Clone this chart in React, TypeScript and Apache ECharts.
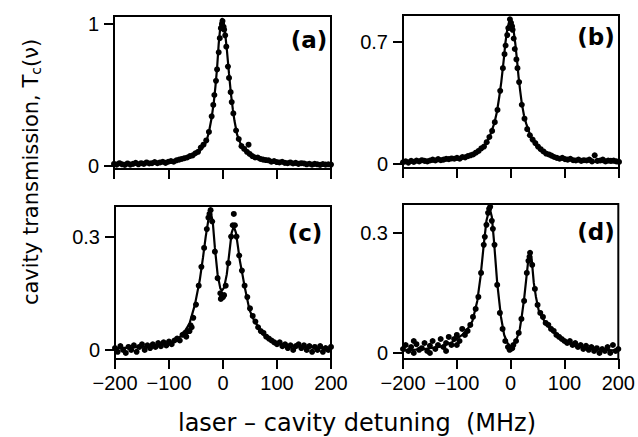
import React, { useEffect, useRef } from "react";
import * as echarts from "echarts";

const X_TICKS = [-200, -100, 0, 100, 200];
const Y_TICKS_A = [0, 1];
const Y_TICKS_B = [0, 0.7];
const Y_TICKS_C = [0, 0.3];
const Y_TICKS_D = [0, 0.3];
const PANEL_LABELS = ["(a)", "(b)", "(c)", "(d)"];

const FIT_A = [
  [-200, 0.012], [-150, 0.017], [-120, 0.022], [-100, 0.028], [-80, 0.04], [-70, 0.052], [-60, 0.065],
  [-47, 0.09], [-40, 0.115], [-33, 0.15], [-29, 0.183], [-25, 0.24], [-20, 0.34], [-16, 0.45], [-13, 0.56],
  [-10, 0.69], [-7, 0.86], [-4, 0.98], [-1, 1.04], [2, 1.02], [5, 0.93], [8, 0.82], [12, 0.65], [15.5, 0.51],
  [19, 0.4], [22, 0.32], [27, 0.22], [33, 0.16], [40, 0.12], [50, 0.08], [57, 0.065], [70, 0.05], [82, 0.042],
  [100, 0.03], [120, 0.022], [150, 0.016], [200, 0.01],
];
const FIT_B = [
  [-200, 0.008], [-150, 0.013], [-120, 0.02], [-100, 0.028], [-77, 0.042], [-65, 0.06], [-55, 0.085],
  [-46, 0.12], [-38, 0.17], [-31, 0.233], [-26, 0.3], [-21.7, 0.386], [-18, 0.47], [-15.5, 0.54], [-13, 0.61],
  [-10.6, 0.69], [-7, 0.77], [-4, 0.81], [-2, 0.826], [0, 0.825], [3, 0.8], [5.5, 0.75], [8, 0.69], [11, 0.6],
  [14, 0.5], [17, 0.42], [20, 0.348], [24, 0.28], [28, 0.233], [34, 0.18], [40, 0.138], [50, 0.095],
  [62, 0.071], [72, 0.055], [83, 0.042], [100, 0.03], [120, 0.02], [150, 0.013], [200, 0.008],
];
const FIT_C = [
  [-200, 0.004], [-150, 0.008], [-120, 0.012], [-100, 0.018], [-86, 0.026], [-74, 0.042], [-62, 0.07],
  [-52, 0.12], [-43, 0.185], [-37, 0.245], [-32, 0.3], [-27, 0.345], [-23, 0.366], [-19, 0.34], [-15, 0.27],
  [-10, 0.2], [-5, 0.163], [-2, 0.157], [2, 0.165], [7, 0.2], [12, 0.26], [16, 0.31], [20, 0.327], [24, 0.31],
  [28, 0.27], [31, 0.238], [36, 0.2], [40, 0.168], [49, 0.106], [57, 0.08], [65, 0.062], [75, 0.04],
  [86, 0.026], [100, 0.018], [120, 0.012], [150, 0.008], [200, 0.004],
];
const FIT_D = [
  [-200, 0.006], [-160, 0.01], [-130, 0.016], [-110, 0.026], [-90, 0.045], [-80, 0.06], [-71, 0.08],
  [-62, 0.13], [-56, 0.19], [-50, 0.27], [-45, 0.33], [-39, 0.362], [-35, 0.34], [-31, 0.28], [-25, 0.175],
  [-18, 0.09], [-12, 0.045], [-6, 0.025], [0, 0.016], [6, 0.022], [12, 0.038], [17, 0.06], [21, 0.095],
  [25, 0.135], [29, 0.185], [33, 0.235], [36, 0.253], [39, 0.235], [43, 0.175], [47, 0.14], [52, 0.107],
  [60, 0.085], [71, 0.065], [85, 0.045], [96, 0.032], [120, 0.017], [150, 0.01], [200, 0.006],
];

const DOTS_A = [
  [-200, 0.015], [-195, 0.01], [-190, 0.02], [-185, 0.012], [-180, 0.008], [-175, 0.018], [-170, 0.01],
  [-165, 0.015], [-160, 0.022], [-155, 0.012], [-150, 0.02], [-145, 0.015], [-140, 0.025], [-135, 0.018],
  [-130, 0.02], [-125, 0.028], [-120, 0.02], [-115, 0.025], [-110, 0.03], [-105, 0.022], [-100, 0.03],
  [-95, 0.035], [-90, 0.03], [-85, 0.04], [-80, 0.045], [-75, 0.05], [-70, 0.055], [-65, 0.06], [-60, 0.07],
  [-55, 0.075], [-50, 0.09], [-45, 0.1], [-40, 0.13], [-35, 0.15], [-30, 0.18], [-25, 0.24], [-20, 0.35],
  [-17, 0.43], [-15, 0.5], [-12, 0.6], [-10, 0.68], [-7, 0.8], [-5, 0.9], [-3, 0.97], [-1, 1.0], [0, 1.02],
  [2, 0.98], [3, 0.96], [5, 0.92], [7, 0.84], [10, 0.7], [12, 0.62], [15, 0.52], [17, 0.45], [20, 0.37],
  [25, 0.25], [30, 0.19], [35, 0.14], [40, 0.12], [45, 0.1], [48, 0.15], [50, 0.085], [55, 0.07], [60, 0.06],
  [65, 0.06], [70, 0.05], [75, 0.045], [80, 0.042], [85, 0.04], [90, 0.03], [95, 0.035], [100, 0.028],
  [105, 0.025], [110, 0.03], [115, 0.022], [120, 0.02], [125, 0.025], [130, 0.018], [135, 0.022], [140, 0.015],
  [145, 0.02], [150, 0.018], [155, 0.012], [160, 0.016], [165, 0.01], [170, 0.015], [175, 0.012], [180, 0.008],
  [185, 0.014], [190, 0.01], [195, 0.012], [200, 0.01],
];
const DOTS_B = [
  [-200, 0.01], [-195, 0.015], [-190, 0.008], [-185, 0.018], [-180, 0.012], [-175, 0.02], [-170, 0.015],
  [-165, 0.022], [-160, 0.018], [-155, 0.015], [-150, 0.02], [-145, 0.025], [-140, 0.02], [-135, 0.028],
  [-130, 0.022], [-125, 0.025], [-120, 0.03], [-115, 0.028], [-110, 0.032], [-105, 0.03], [-100, 0.035],
  [-95, 0.03], [-90, 0.04], [-85, 0.038], [-80, 0.045], [-75, 0.05], [-70, 0.055], [-65, 0.065], [-60, 0.075],
  [-55, 0.09], [-50, 0.1], [-45, 0.125], [-40, 0.155], [-35, 0.19], [-30, 0.24], [-25, 0.31], [-20, 0.42],
  [-15, 0.55], [-12, 0.63], [-10, 0.68], [-7, 0.74], [-5, 0.78], [-2, 0.83], [0, 0.81], [2, 0.79], [3, 0.77],
  [5, 0.72], [7, 0.66], [10, 0.6], [12, 0.55], [15, 0.47], [20, 0.34], [25, 0.26], [30, 0.2], [35, 0.165],
  [40, 0.14], [45, 0.12], [50, 0.1], [55, 0.085], [60, 0.072], [65, 0.06], [70, 0.055], [75, 0.048],
  [80, 0.04], [85, 0.035], [90, 0.03], [95, 0.035], [100, 0.028], [105, 0.025], [110, 0.03], [115, 0.022],
  [120, 0.02], [125, 0.025], [130, 0.018], [135, 0.022], [140, 0.02], [145, 0.025], [150, 0.015], [155, 0.05],
  [160, 0.018], [165, 0.02], [170, 0.025], [175, 0.015], [180, 0.02], [185, 0.018], [190, 0.02], [195, 0.015],
  [200, 0.012],
];
const DOTS_C = [
  [-200, 0.005], [-195, -0.005], [-190, 0.01], [-185, 0.0], [-180, -0.008], [-175, 0.008], [-170, 0.0],
  [-165, 0.012], [-160, -0.005], [-155, 0.008], [-150, 0.015], [-145, 0.0], [-140, 0.012], [-135, 0.005],
  [-130, 0.015], [-125, 0.008], [-120, 0.018], [-115, 0.01], [-110, 0.02], [-105, 0.012], [-100, 0.022],
  [-95, 0.015], [-90, 0.025], [-85, 0.03], [-80, 0.025], [-75, 0.04], [-70, 0.045], [-68, 0.035], [-65, 0.05],
  [-62, 0.05], [-60, 0.065], [-58, 0.06], [-55, 0.085], [-50, 0.12], [-45, 0.17], [-40, 0.22], [-35, 0.27],
  [-30, 0.32], [-27, 0.35], [-25, 0.36], [-23, 0.37], [-20, 0.34], [-15, 0.26], [-10, 0.19], [-5, 0.15],
  [-4, 0.135], [-2, 0.14], [0, 0.14], [2, 0.145], [5, 0.17], [10, 0.23], [15, 0.3], [18, 0.33], [20, 0.36],
  [22, 0.33], [25, 0.3], [30, 0.25], [35, 0.21], [40, 0.17], [45, 0.14], [50, 0.11], [55, 0.09], [60, 0.075],
  [65, 0.06], [70, 0.05], [75, 0.045], [80, 0.035], [85, 0.03], [90, 0.025], [95, 0.02], [100, 0.015],
  [105, 0.02], [110, 0.01], [115, 0.015], [120, 0.005], [125, 0.012], [130, 0.0], [135, 0.01], [140, 0.015],
  [145, 0.005], [150, 0.012], [155, 0.0], [160, 0.01], [165, -0.005], [170, 0.008], [175, 0.0], [180, 0.01],
  [185, -0.005], [190, 0.005], [195, 0.0], [200, 0.008],
];
const DOTS_D = [
  [-200, 0.01], [-195, 0.02], [-190, 0.005], [-185, 0.015], [-180, 0.0], [-180, 0.03], [-175, 0.022],
  [-170, 0.008], [-165, 0.012], [-160, 0.025], [-155, 0.005], [-150, 0.018], [-150, 0.0], [-145, 0.03],
  [-140, 0.01], [-135, 0.02], [-130, 0.035], [-125, 0.015], [-120, 0.025], [-120, 0.005], [-115, 0.04],
  [-110, 0.02], [-105, 0.035], [-100, 0.045], [-100, 0.02], [-95, 0.03], [-90, 0.06], [-85, 0.045],
  [-80, 0.055], [-75, 0.07], [-70, 0.09], [-65, 0.11], [-60, 0.14], [-55, 0.2], [-50, 0.27], [-48, 0.29],
  [-45, 0.32], [-42, 0.35], [-40, 0.36], [-38, 0.365], [-35, 0.33], [-33, 0.31], [-30, 0.27], [-25, 0.17],
  [-20, 0.1], [-15, 0.06], [-10, 0.03], [-5, 0.015], [-2, 0.008], [0, 0.01], [3, 0.012], [5, 0.02], [10, 0.03],
  [15, 0.05], [20, 0.085], [25, 0.13], [30, 0.2], [33, 0.23], [35, 0.24], [36, 0.25], [40, 0.22], [45, 0.16],
  [50, 0.12], [55, 0.1], [60, 0.09], [65, 0.075], [70, 0.07], [75, 0.06], [80, 0.055], [85, 0.045], [90, 0.04],
  [95, 0.035], [100, 0.03], [105, 0.025], [110, 0.03], [115, 0.02], [120, 0.025], [125, 0.015], [130, 0.02],
  [135, 0.01], [140, 0.018], [145, 0.008], [150, 0.015], [155, 0.005], [160, 0.012], [165, 0.0], [170, 0.01],
  [175, 0.005], [180, 0.015], [185, 0.0], [190, 0.02], [195, 0.005], [200, 0.01],
];

const FONT = "'DejaVu Sans', 'Liberation Sans', sans-serif";
const TICK_FONT = "'Liberation Sans', Arial, sans-serif";

export default function App() {
  const ref = useRef<HTMLDivElement>(null);

  useEffect(() => {
    if (!ref.current) return;
    const chart = echarts.init(ref.current, null, { renderer: "svg" });

    const grids = [
      { left: 114, top: 16, width: 217, height: 153 },
      { left: 403, top: 15, width: 216, height: 153 },
      { left: 115, top: 206, width: 216, height: 153 },
      { left: 403, top: 204, width: 216, height: 155 },
    ];
    const yRanges = [
      [-0.021, 1.056],
      [-0.023, 0.855],
      [-0.024, 0.381],
      [-0.015, 0.372],
    ];
    const yTicks = [Y_TICKS_A, Y_TICKS_B, Y_TICKS_C, Y_TICKS_D];
    const fits = [FIT_A, FIT_B, FIT_C, FIT_D];
    const dots = [DOTS_A, DOTS_B, DOTS_C, DOTS_D];
    const labelPos = [
      [309, 40],
      [596, 37],
      [305, 233],
      [596, 232],
    ];

    const option: any = {
      animation: false,
      backgroundColor: "#fff",
      grid: grids.map((g) => ({
        ...g,
        show: true,
        borderColor: "#000",
        borderWidth: 2,
        backgroundColor: "transparent",
        containLabel: false,
      })),
      xAxis: grids.map((_, i) => ({
        type: "value",
        gridIndex: i,
        min: -200,
        max: 200,
        interval: 100,
        axisLine: { show: true, onZero: false, lineStyle: { color: "#000", width: 2 } },
        axisTick: {
          show: true,
          inside: false,
          length: 10,
          customValues: X_TICKS,
          lineStyle: { color: "#000", width: 2 },
        },
        axisLabel: {
          show: i >= 2,
          customValues: X_TICKS,
          color: "#000",
          fontSize: 20,
          fontFamily: TICK_FONT,
          margin: 14,
          formatter: (v: number) => String(v).replace("-", "\u2212"),
        },
        splitLine: { show: false },
      })),
      yAxis: grids.map((_, i) => ({
        type: "value",
        gridIndex: i,
        min: yRanges[i][0],
        max: yRanges[i][1],
        axisLine: { show: true, onZero: false, lineStyle: { color: "#000", width: 2 } },
        axisTick: {
          show: true,
          inside: false,
          length: 10,
          customValues: yTicks[i],
          lineStyle: { color: "#000", width: 2 },
        },
        axisLabel: {
          show: true,
          customValues: yTicks[i],
          color: "#000",
          fontSize: 20,
          fontFamily: TICK_FONT,
          margin: 15,
          formatter: (v: number) => String(v),
        },
        splitLine: { show: false },
      })),
      series: [
        ...fits.map((d, i) => ({
          type: "line",
          xAxisIndex: i,
          yAxisIndex: i,
          data: d,
          showSymbol: false,
          symbol: "none",
          smooth: false,
          lineStyle: { color: "#000", width: 2.2 },
          z: 3,
        })),
        ...dots.map((d, i) => ({
          type: "scatter",
          xAxisIndex: i,
          yAxisIndex: i,
          data: d,
          symbol: "circle",
          symbolSize: 6,
          itemStyle: { color: "#000", opacity: 1 },
          z: 4,
        })),
      ],
      graphic: [
        ...PANEL_LABELS.map((t, i) => ({
          type: "text",
          x: labelPos[i][0],
          y: labelPos[i][1],
          style: {
            text: t,
            fill: "#000",
            fontSize: 23,
            fontWeight: "bold",
            fontFamily: FONT,
            align: "center",
            verticalAlign: "middle",
            textAlign: "center",
            textVerticalAlign: "middle",
          },
        })),
        {
          type: "text",
          x: 31,
          y: 172,
          rotation: Math.PI / 2,
          style: {
            text: "cavity transmission, T{s|c}(\u03bd)",
            fill: "#000",
            fontSize: 21,
            fontFamily: FONT,
            align: "center",
            verticalAlign: "middle",
            textAlign: "center",
            textVerticalAlign: "middle",
            rich: {
              s: { fontSize: 14, fontFamily: FONT, fill: "#000", verticalAlign: "bottom", padding: [10, 0, 0, 0] },
            },
          },
        },
        {
          type: "text",
          x: 357,
          y: 423,
          style: {
            text: "laser \u2013 cavity detuning  (MHz)",
            fill: "#000",
            fontSize: 24,
            fontFamily: FONT,
            align: "center",
            verticalAlign: "middle",
            textAlign: "center",
            textVerticalAlign: "middle",
          },
        },
      ],
    };

    chart.setOption(option);
    return () => chart.dispose();
  }, []);

  return (
    <div
      ref={ref}
      style={{ position: "fixed", left: 0, top: 0, width: 638, height: 437, background: "#fff" }}
    />
  );
}
